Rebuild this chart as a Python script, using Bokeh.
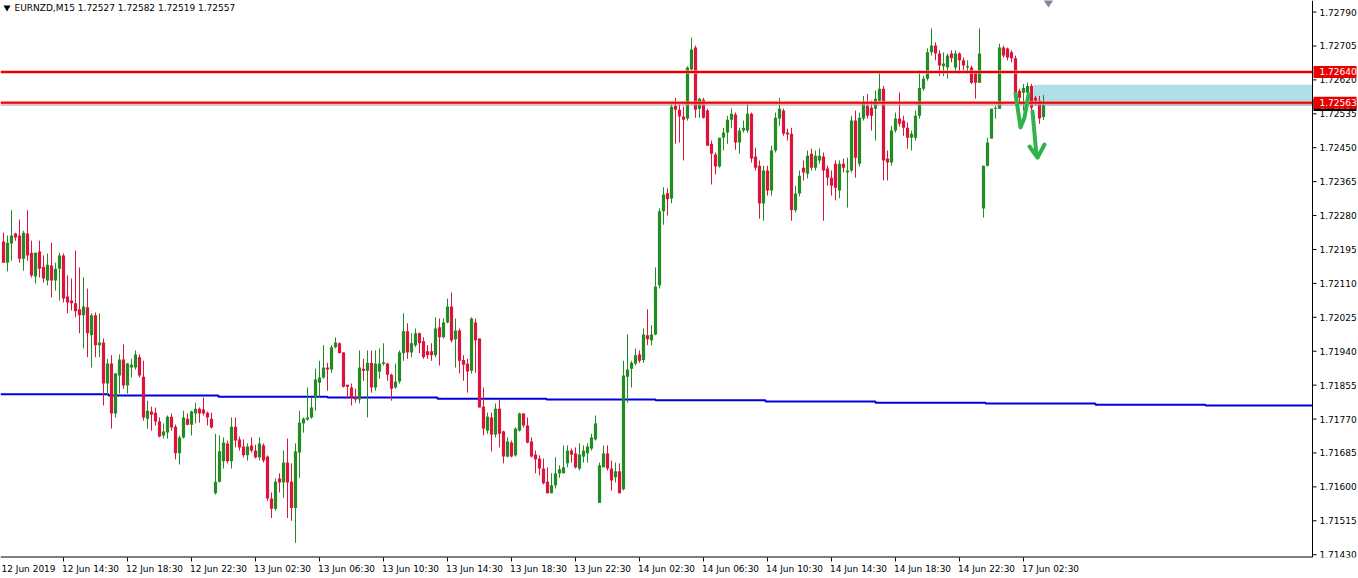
from bokeh.plotting import figure
from bokeh.models import (Label, FixedTicker, ColumnDataSource, BoxAnnotation, Range1d)
from bokeh.core.properties import value
from bokeh.embed import file_html
from bokeh.resources import INLINE

# ---------------- data (EURNZD, M15) ----------------
opens = [
    1.72215, 1.72162, 1.72210, 1.72235, 1.72230, 1.72172, 1.72235, 1.72187, 1.72127, 1.72190,
    1.72152, 1.72117, 1.72155, 1.72117, 1.72147, 1.72180, 1.72077, 1.72067, 1.72060, 1.72045,
    1.72030, 1.72050, 1.71980, 1.72030, 1.71955, 1.71962, 1.71859, 1.71909, 1.71784, 1.71879,
    1.71919, 1.71854, 1.71899, 1.71899, 1.71925, 1.71876, 1.71771, 1.71789, 1.71786, 1.71764,
    1.71729, 1.71736, 1.71776, 1.71751, 1.71684, 1.71724, 1.71771, 1.71756, 1.71784, 1.71796,
    1.71794, 1.71786, 1.71771, 1.71584, 1.71613, 1.71664, 1.71709, 1.71664, 1.71751, 1.71719,
    1.71701, 1.71679, 1.71704, 1.71691, 1.71674, 1.71704, 1.71676, 1.71571, 1.71545, 1.71621,
    1.71611, 1.71661, 1.71613, 1.71547, 1.71686, 1.71759, 1.71769, 1.71774, 1.71824, 1.71861,
    1.71874, 1.71899, 1.71894, 1.71950, 1.71960, 1.71937, 1.71856, 1.71849, 1.71824, 1.71819,
    1.71896, 1.71891, 1.71911, 1.71849, 1.71889, 1.71909, 1.71909, 1.71881, 1.71849, 1.71864,
    1.71935, 1.71990, 1.71937, 1.71955, 1.71985, 1.71965, 1.71940, 1.71940, 1.71930, 1.72000,
    1.71975, 1.72012, 1.72052, 1.71970, 1.71992, 1.71918, 1.71909, 1.71891, 1.72012, 1.71972,
    1.71801, 1.71741, 1.71774, 1.71731, 1.71796, 1.71739, 1.71676, 1.71711, 1.71679, 1.71741,
    1.71784, 1.71754, 1.71714, 1.71681, 1.71671, 1.71646, 1.71613, 1.71584, 1.71604, 1.71634,
    1.71634, 1.71659, 1.71691, 1.71684, 1.71646, 1.71676, 1.71684, 1.71696, 1.71719, 1.71560,
    1.71649, 1.71684, 1.71646, 1.71624, 1.71639, 1.71594, 1.71876, 1.71896, 1.71909, 1.71932,
    1.71918, 1.71980, 1.71967, 1.71982, 1.72105, 1.72291, 1.72336, 1.72323, 1.72555, 1.72545,
    1.72528, 1.72523, 1.72646, 1.72701, 1.72548, 1.72570, 1.72543, 1.72460, 1.72433, 1.72403,
    1.72475, 1.72488, 1.72520, 1.72533, 1.72463, 1.72493, 1.72493, 1.72535, 1.72428, 1.72405,
    1.72310, 1.72393, 1.72343, 1.72443, 1.72523, 1.72543, 1.72488, 1.72485, 1.72293, 1.72335,
    1.72400, 1.72385, 1.72435, 1.72400, 1.72418, 1.72428, 1.72398, 1.72375, 1.72410, 1.72343,
    1.72410, 1.72388, 1.72393, 1.72518, 1.72410, 1.72523, 1.72555, 1.72550, 1.72548, 1.72568,
    1.72598, 1.72423, 1.72413, 1.72493, 1.72523, 1.72518, 1.72500, 1.72475, 1.72475, 1.72530,
    1.72598, 1.72623, 1.72689, 1.72706, 1.72686, 1.72654, 1.72651, 1.72686, 1.72651, 1.72686,
    1.72669, 1.72651, 1.72651, 1.72638, 1.72613, 1.72298, 1.72405, 1.72473, 1.72548, 1.72548,
    1.72701, 1.72699, 1.72689, 1.72674, 1.72593, 1.72588, 1.72588, 1.72605, 1.72575, 1.72568,
    1.72527,
]
highs = [
    1.72237, 1.72230, 1.72293, 1.72237, 1.72270, 1.72242, 1.72293, 1.72217, 1.72187, 1.72217,
    1.72180, 1.72185, 1.72212, 1.72162, 1.72187, 1.72185, 1.72130, 1.72122, 1.72192, 1.72150,
    1.72125, 1.72097, 1.72035, 1.72037, 1.72035, 1.71972, 1.71921, 1.71930, 1.71886, 1.71932,
    1.71957, 1.71911, 1.71921, 1.71942, 1.71932, 1.71916, 1.71816, 1.71801, 1.71799, 1.71774,
    1.71759, 1.71779, 1.71784, 1.71756, 1.71729, 1.71791, 1.71784, 1.71791, 1.71811, 1.71799,
    1.71824, 1.71789, 1.71786, 1.71733, 1.71729, 1.71724, 1.71716, 1.71774, 1.71774, 1.71726,
    1.71719, 1.71709, 1.71724, 1.71706, 1.71724, 1.71709, 1.71679, 1.71586, 1.71621, 1.71634,
    1.71691, 1.71721, 1.71659, 1.71709, 1.71791, 1.71774, 1.71849, 1.71824, 1.71896, 1.71916,
    1.71955, 1.71911, 1.71955, 1.71975, 1.71962, 1.71937, 1.71856, 1.71859, 1.71846, 1.71942,
    1.71921, 1.71942, 1.71942, 1.71942, 1.71947, 1.71960, 1.71911, 1.71884, 1.71909, 1.71942,
    1.72035, 1.72010, 1.71985, 1.71997, 1.71987, 1.71975, 1.71955, 1.71960, 1.72025, 1.72022,
    1.72022, 1.72072, 1.72087, 1.72022, 1.71997, 1.71930, 1.71921, 1.72025, 1.72022, 1.71972,
    1.71849, 1.71786, 1.71786, 1.71809, 1.71821, 1.71741, 1.71724, 1.71716, 1.71749, 1.71786,
    1.71784, 1.71774, 1.71724, 1.71691, 1.71679, 1.71671, 1.71649, 1.71634, 1.71674, 1.71654,
    1.71704, 1.71704, 1.71696, 1.71699, 1.71709, 1.71704, 1.71709, 1.71733, 1.71779, 1.71661,
    1.71704, 1.71704, 1.71666, 1.71661, 1.71659, 1.71916, 1.71982, 1.71916, 1.71947, 1.71942,
    1.71997, 1.72045, 1.72005, 1.72150, 1.72298, 1.72351, 1.72348, 1.72560, 1.72575, 1.72560,
    1.72553, 1.72654, 1.72726, 1.72706, 1.72575, 1.72575, 1.72548, 1.72468, 1.72438, 1.72475,
    1.72500, 1.72530, 1.72548, 1.72538, 1.72500, 1.72518, 1.72560, 1.72538, 1.72450, 1.72418,
    1.72405, 1.72405, 1.72455, 1.72538, 1.72575, 1.72548, 1.72498, 1.72500, 1.72355, 1.72393,
    1.72418, 1.72443, 1.72448, 1.72443, 1.72448, 1.72438, 1.72405, 1.72393, 1.72418, 1.72418,
    1.72423, 1.72425, 1.72530, 1.72543, 1.72538, 1.72580, 1.72585, 1.72568, 1.72593, 1.72638,
    1.72605, 1.72443, 1.72505, 1.72538, 1.72588, 1.72530, 1.72513, 1.72493, 1.72543, 1.72644,
    1.72630, 1.72699, 1.72749, 1.72714, 1.72694, 1.72689, 1.72686, 1.72694, 1.72694, 1.72689,
    1.72676, 1.72669, 1.72656, 1.72643, 1.72749, 1.72405, 1.72475, 1.72548, 1.72555, 1.72711,
    1.72706, 1.72701, 1.72694, 1.72681, 1.72598, 1.72610, 1.72613, 1.72610, 1.72580, 1.72580,
    1.72582,
]
lows = [
    1.72162, 1.72140, 1.72167, 1.72217, 1.72162, 1.72142, 1.72167, 1.72125, 1.72110, 1.72125,
    1.72112, 1.72105, 1.72075, 1.72092, 1.72067, 1.72062, 1.72035, 1.72042, 1.72025, 1.71985,
    1.71947, 1.71925, 1.71899, 1.71925, 1.71925, 1.71804, 1.71829, 1.71746, 1.71774, 1.71834,
    1.71846, 1.71834, 1.71874, 1.71894, 1.71874, 1.71766, 1.71746, 1.71741, 1.71754, 1.71724,
    1.71721, 1.71721, 1.71741, 1.71669, 1.71656, 1.71721, 1.71754, 1.71729, 1.71759, 1.71761,
    1.71779, 1.71754, 1.71746, 1.71581, 1.71611, 1.71646, 1.71659, 1.71646, 1.71699, 1.71691,
    1.71674, 1.71666, 1.71686, 1.71671, 1.71666, 1.71661, 1.71565, 1.71522, 1.71540, 1.71586,
    1.71573, 1.71522, 1.71515, 1.71460, 1.71623, 1.71736, 1.71766, 1.71771, 1.71791, 1.71824,
    1.71871, 1.71841, 1.71886, 1.71947, 1.71935, 1.71849, 1.71821, 1.71804, 1.71811, 1.71809,
    1.71866, 1.71774, 1.71836, 1.71841, 1.71871, 1.71904, 1.71866, 1.71816, 1.71846, 1.71859,
    1.71916, 1.71921, 1.71925, 1.71950, 1.71935, 1.71921, 1.71921, 1.71916, 1.71925, 1.71904,
    1.71972, 1.72010, 1.71962, 1.71899, 1.71884, 1.71866, 1.71836, 1.71884, 1.71886, 1.71799,
    1.71729, 1.71733, 1.71689, 1.71724, 1.71699, 1.71659, 1.71674, 1.71674, 1.71676, 1.71739,
    1.71749, 1.71709, 1.71674, 1.71634, 1.71629, 1.71606, 1.71584, 1.71584, 1.71596, 1.71623,
    1.71634, 1.71649, 1.71661, 1.71646, 1.71641, 1.71661, 1.71661, 1.71691, 1.71716, 1.71560,
    1.71649, 1.71641, 1.71591, 1.71611, 1.71584, 1.71591, 1.71811, 1.71849, 1.71904, 1.71911,
    1.71911, 1.71955, 1.71955, 1.71980, 1.72097, 1.72257, 1.72280, 1.72311, 1.72460, 1.72463,
    1.72418, 1.72518, 1.72644, 1.72525, 1.72525, 1.72523, 1.72455, 1.72358, 1.72383, 1.72400,
    1.72443, 1.72460, 1.72500, 1.72445, 1.72435, 1.72488, 1.72488, 1.72413, 1.72393, 1.72272,
    1.72267, 1.72330, 1.72330, 1.72438, 1.72505, 1.72480, 1.72468, 1.72267, 1.72288, 1.72328,
    1.72368, 1.72373, 1.72393, 1.72393, 1.72410, 1.72267, 1.72355, 1.72330, 1.72318, 1.72323,
    1.72388, 1.72300, 1.72388, 1.72375, 1.72403, 1.72518, 1.72523, 1.72493, 1.72468, 1.72563,
    1.72368, 1.72368, 1.72405, 1.72488, 1.72503, 1.72480, 1.72448, 1.72443, 1.72468, 1.72523,
    1.72593, 1.72618, 1.72681, 1.72669, 1.72630, 1.72630, 1.72623, 1.72664, 1.72638, 1.72636,
    1.72644, 1.72636, 1.72610, 1.72573, 1.72613, 1.72275, 1.72403, 1.72473, 1.72523, 1.72548,
    1.72676, 1.72669, 1.72664, 1.72580, 1.72560, 1.72543, 1.72550, 1.72525, 1.72555, 1.72510,
    1.72519,
]
closes = [
    1.72162, 1.72212, 1.72230, 1.72225, 1.72172, 1.72237, 1.72180, 1.72130, 1.72187, 1.72147,
    1.72122, 1.72157, 1.72117, 1.72147, 1.72180, 1.72072, 1.72062, 1.72060, 1.72040, 1.72030,
    1.72052, 1.71985, 1.72030, 1.71955, 1.71962, 1.71859, 1.71909, 1.71784, 1.71884, 1.71919,
    1.71854, 1.71909, 1.71906, 1.71932, 1.71879, 1.71774, 1.71791, 1.71781, 1.71764, 1.71726,
    1.71739, 1.71776, 1.71749, 1.71684, 1.71724, 1.71774, 1.71756, 1.71789, 1.71796, 1.71784,
    1.71784, 1.71774, 1.71749, 1.71613, 1.71689, 1.71711, 1.71664, 1.71751, 1.71716, 1.71699,
    1.71679, 1.71701, 1.71691, 1.71674, 1.71709, 1.71666, 1.71571, 1.71545, 1.71613, 1.71611,
    1.71661, 1.71611, 1.71547, 1.71689, 1.71761, 1.71771, 1.71774, 1.71799, 1.71869, 1.71874,
    1.71899, 1.71894, 1.71950, 1.71962, 1.71935, 1.71851, 1.71851, 1.71824, 1.71819, 1.71899,
    1.71891, 1.71911, 1.71849, 1.71909, 1.71909, 1.71911, 1.71881, 1.71846, 1.71864, 1.71937,
    1.71990, 1.71937, 1.71960, 1.71985, 1.71960, 1.71925, 1.71930, 1.71930, 1.71997, 1.71975,
    1.72012, 1.72052, 1.71967, 1.71992, 1.71916, 1.71906, 1.71889, 1.72022, 1.71967, 1.71799,
    1.71746, 1.71776, 1.71731, 1.71796, 1.71733, 1.71676, 1.71714, 1.71676, 1.71746, 1.71784,
    1.71754, 1.71711, 1.71676, 1.71669, 1.71646, 1.71609, 1.71584, 1.71604, 1.71634, 1.71644,
    1.71649, 1.71691, 1.71681, 1.71649, 1.71681, 1.71691, 1.71701, 1.71724, 1.71759, 1.71654,
    1.71684, 1.71646, 1.71616, 1.71639, 1.71584, 1.71879, 1.71894, 1.71911, 1.71930, 1.71916,
    1.71982, 1.71970, 1.71982, 1.72102, 1.72291, 1.72333, 1.72321, 1.72553, 1.72545, 1.72528,
    1.72520, 1.72651, 1.72696, 1.72545, 1.72573, 1.72525, 1.72455, 1.72435, 1.72403, 1.72475,
    1.72488, 1.72520, 1.72535, 1.72463, 1.72493, 1.72500, 1.72535, 1.72423, 1.72400, 1.72310,
    1.72393, 1.72343, 1.72443, 1.72525, 1.72548, 1.72485, 1.72483, 1.72293, 1.72335, 1.72380,
    1.72388, 1.72430, 1.72400, 1.72430, 1.72430, 1.72393, 1.72375, 1.72355, 1.72350, 1.72410,
    1.72400, 1.72393, 1.72518, 1.72425, 1.72525, 1.72563, 1.72530, 1.72530, 1.72573, 1.72598,
    1.72418, 1.72413, 1.72493, 1.72523, 1.72510, 1.72500, 1.72475, 1.72485, 1.72530, 1.72600,
    1.72623, 1.72689, 1.72706, 1.72686, 1.72656, 1.72661, 1.72681, 1.72674, 1.72686, 1.72669,
    1.72656, 1.72654, 1.72613, 1.72613, 1.72686, 1.72405, 1.72463, 1.72548, 1.72550, 1.72701,
    1.72681, 1.72676, 1.72674, 1.72588, 1.72575, 1.72600, 1.72605, 1.72550, 1.72568, 1.72523,
    1.72557,
]

first_label = "12 Jun 2019"
time_tick_bars = [15, 31, 47, 63, 79, 95, 111, 127, 143, 159, 175, 191, 207, 223, 239, 255]
time_tick_labels = ["12 Jun 14:30", "12 Jun 18:30", "12 Jun 22:30", "13 Jun 02:30",
                    "13 Jun 06:30", "13 Jun 10:30", "13 Jun 14:30", "13 Jun 18:30", "13 Jun 22:30",
                    "14 Jun 02:30", "14 Jun 06:30", "14 Jun 10:30", "14 Jun 14:30", "14 Jun 18:30",
                    "14 Jun 22:30", "17 Jun 02:30"]
price_ticks = [1.71430, 1.71515, 1.71600, 1.71685, 1.71770, 1.71855, 1.71940, 1.72025, 1.72110,
               1.72195, 1.72280, 1.72365, 1.72450, 1.72535, 1.72620, 1.72705, 1.72790]

# moving average (stepped, higher timeframe)
ma_breaks = [-0.75, 26.25, 53.75, 81, 108.5, 135.75, 163, 190.5, 218, 245.5, 273, 300.5, 327.25]
ma_values = [1.71832, 1.71829, 1.71826, 1.71824, 1.71821, 1.71819, 1.71817, 1.71814, 1.71811,
             1.71809, 1.71806, 1.71804]

level_upper = 1.72640
level_lower = 1.72563
bid_price = closes[-1]
zone_start_bar = 257.5
zone_top = 1.72608
zone_bottom = 1.72556

# hand-drawn green arrow (bar index, price)
arrow_w_x = [253.0, 254.25, 255.25, 256.25]
arrow_w_y = [1.72586, 1.72501, 1.72526, 1.72583]
arrow_shaft_x = [257.25, 258.25]
arrow_shaft_y = [1.72541, 1.72430]
arrow_head_x = [256.5, 258.5, 260.25]
arrow_head_y = [1.72453, 1.72425, 1.72458]

# ---------------- layout ----------------
FRAME_W = 1358
FRAME_H = 557
X_MIN = -0.75
AXIS_X = 327.25                      # price scale position (bar units)
PX_PER_BAR = 1312.0 / (AXIS_X - X_MIN)
X_MAX = X_MIN + FRAME_W / PX_PER_BAR
Y_MIN, Y_MAX = 1.71423, 1.72819
PX_PER_PRICE = FRAME_H / (Y_MAX - Y_MIN)

def bars(px):
    return px / PX_PER_BAR

def price(px):
    return px / PX_PER_PRICE

BULL = "#228b22"
BEAR = "#dc143c"
RED = "#e80000"
FONT = "DejaVu Sans"
FSIZE = "9px"

n = len(opens)
xs = list(range(n))
tops, bottoms, colors = [], [], []
for o, c in zip(opens, closes):
    t, b = max(o, c), min(o, c)
    if t - b < 0.00002:
        t += 0.00001
        b -= 0.00001
    tops.append(t)
    bottoms.append(b)
    colors.append(BULL if c >= o else BEAR)

src = ColumnDataSource(dict(x=xs, high=highs, low=lows, top=tops, bottom=bottoms, color=colors))

p = figure(frame_width=FRAME_W, frame_height=FRAME_H,
           x_range=Range1d(X_MIN, X_MAX), y_range=Range1d(Y_MIN, Y_MAX),
           output_backend="svg", toolbar_location=None,
           y_axis_location=None, x_axis_location="below",
           min_border_left=0, min_border_top=0, min_border_right=0, min_border_bottom=0)
p.outline_line_color = None
p.background_fill_color = "white"
p.border_fill_color = "white"
p.xgrid.visible = False
p.ygrid.visible = False

# zone (behind candles)
p.add_layout(BoxAnnotation(left=zone_start_bar, right=AXIS_X, bottom=zone_bottom, top=zone_top,
                           fill_color="#b0e0e6", fill_alpha=1.0, line_color=None, level="underlay"))

# moving average
p.step(x=ma_breaks, y=ma_values + [ma_values[-1]], mode="after", line_color="#0000dd", line_width=2)

# candles
p.segment(x0="x", y0="low", x1="x", y1="high", line_color="color", line_width=1, source=src)
p.vbar(x="x", width=0.8, top="top", bottom="bottom", fill_color="color", line_color=None, source=src)

# bid line and levels (stop at the price scale)
p.segment(x0=[X_MIN], y0=[bid_price], x1=[AXIS_X], y1=[bid_price], line_color="#9aa0b8", line_width=1)
for lvl in (level_upper, level_lower):
    p.segment(x0=[X_MIN], y0=[lvl], x1=[AXIS_X], y1=[lvl], line_color="#ff9a9a", line_width=4, line_alpha=0.6)
    p.segment(x0=[X_MIN], y0=[lvl], x1=[AXIS_X], y1=[lvl], line_color=RED, line_width=2)

# hand-drawn arrow
ARROW = "#2fb34a"
for ax_, ay_ in ((arrow_w_x, arrow_w_y), (arrow_shaft_x, arrow_shaft_y), (arrow_head_x, arrow_head_y)):
    p.line(ax_, ay_, line_color=ARROW, line_width=4, line_cap="round", line_join="round")

# marker at top
p.scatter(x=[261.25], y=[Y_MAX], marker="diamond", size=14, fill_color="#7d8799", line_color=None)

# title
p.scatter(x=[X_MIN + bars(6.5)], y=[Y_MAX - price(7)], marker="inverted_triangle", size=7,
          fill_color="black", line_color=None)
title_text = "EURNZD,M15  {:.5f} {:.5f} {:.5f} {:.5f}".format(opens[-1], highs[-1], lows[-1], closes[-1])
p.add_layout(Label(x=X_MIN + bars(14), y=Y_MAX - price(2), text=title_text, text_font=FONT,
                   text_font_size="9px", text_color="black", text_baseline="top", text_align="left"))

# ---- price scale drawn at AXIS_X ----
p.segment(x0=[AXIS_X], y0=[Y_MIN], x1=[AXIS_X], y1=[Y_MAX], line_color="black", line_width=1)
p.segment(x0=[AXIS_X] * len(price_ticks), y0=price_ticks,
          x1=[AXIS_X + bars(4)] * len(price_ticks), y1=price_ticks, line_color="black", line_width=1)
p.text(x=[AXIS_X + bars(7)] * len(price_ticks), y=price_ticks,
       text=["{:.5f}".format(v) for v in price_ticks],
       text_font=value(FONT), text_font_size=value(FSIZE), text_color="black",
       text_baseline="middle", text_align="left")
# bottom axis line (stops at the price scale)
p.segment(x0=[X_MIN], y0=[Y_MIN], x1=[AXIS_X], y1=[Y_MIN], line_color="black", line_width=2)

# price labels on the scale
box_l = AXIS_X + bars(1)
box_r = AXIS_X + bars(44)
half_h = price(6)
p.quad(left=[box_l], right=[box_r], top=[bid_price + half_h], bottom=[bid_price - half_h],
       fill_color="black", line_color=None)
p.text(x=[AXIS_X + bars(7)], y=[bid_price], text=["{:.5f}".format(bid_price)],
       text_font=value(FONT), text_font_size=value(FSIZE), text_color="white",
       text_baseline="middle", text_align="left")
for lvl in (level_upper, level_lower):
    p.quad(left=[box_l], right=[box_r], top=[lvl + half_h], bottom=[lvl - half_h],
           fill_color=RED, line_color=None)
    p.text(x=[AXIS_X + bars(7)], y=[lvl], text=["{:.5f}".format(lvl)],
           text_font=value(FONT), text_font_size=value(FSIZE), text_color="white",
           text_baseline="middle", text_align="left")

# ---- time axis: labels centred to the right of their tick marks ----
label_pos = [X_MIN + bars(28)] + [t + bars(27) for t in time_tick_bars]
labels = [first_label] + time_tick_labels
p.xaxis.ticker = FixedTicker(ticks=label_pos, minor_ticks=time_tick_bars)
p.xaxis.major_label_overrides = {t: lab for t, lab in zip(label_pos, labels)}
p.xaxis.axis_line_color = None
p.xaxis.major_tick_line_color = None
p.xaxis.major_tick_in = 0
p.xaxis.major_tick_out = 2
p.xaxis.minor_tick_line_color = "black"
p.xaxis.minor_tick_in = 0
p.xaxis.minor_tick_out = 4
p.xaxis.major_label_text_font = FONT
p.xaxis.major_label_text_font_size = FSIZE
p.xaxis.major_label_text_color = "black"
p.xaxis.major_label_standoff = 2

open("out.html", "w").write(file_html(p, INLINE))
